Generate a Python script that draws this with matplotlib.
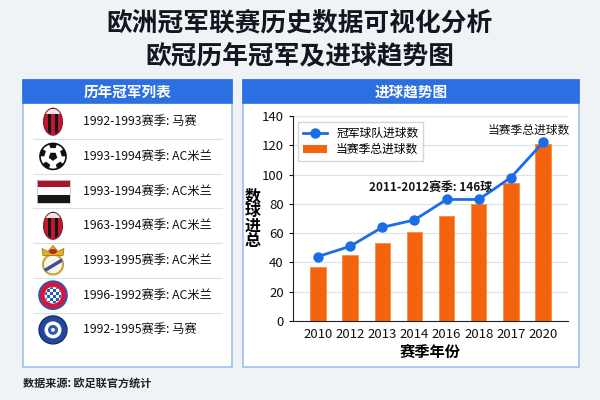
import matplotlib
matplotlib.use("Agg")
import numpy as np
import matplotlib.pyplot as plt
from matplotlib.patches import Rectangle, Ellipse, Circle, Polygon, RegularPolygon
from matplotlib.lines import Line2D

plt.rcParams['font.family'] = ['Noto Sans CJK SC', 'DejaVu Sans']

# data
seasons = ['2010', '2012', '2013', '2014', '2016', '2018', '2017', '2020']
total_goals = [37, 45, 53, 61, 72, 80, 94, 121]
champ_goals = [44, 51, 64, 69, 83, 83, 98, 122]
champ_list = ['1992-1993赛季: 马赛', '1993-1994赛季: AC米兰', '1993-1994赛季: AC米兰',
              '1963-1994赛季: AC米兰', '1993-1995赛季: AC米兰', '1996-1992赛季: AC米兰',
              '1992-1995赛季: 马赛']
icons = ['milan', 'ball', 'flag', 'milan', 'real', 'bayern', 'blue']

BLUE = '#2b6fe2'
ORANGE = '#f4640e'

fig = plt.figure(figsize=(6, 4), dpi=100)
fig.patch.set_facecolor('#eff3f6')

# background layer in pixel coords
bg = fig.add_axes([0, 0, 1, 1])
bg.set_xlim(0, 600)
bg.set_ylim(400, 0)
bg.axis('off')

bg.text(300, 23, '欧洲冠军联赛历史数据可视化分析', ha='center', va='center',
        fontsize=18.5, fontweight='bold', color='#15151f')
bg.text(300, 57, '欧冠历年冠军及进球趋势图', ha='center', va='center',
        fontsize=18.5, fontweight='bold', color='#15151f')

# panels
for x0, x1, title in [(23, 232, '历年冠军列表'), (243, 579, '进球趋势图')]:
    bg.add_patch(Rectangle((x0, 80), x1 - x0, 287, facecolor='white',
                           edgecolor='#9dc1f0', lw=1.2))
    bg.add_patch(Rectangle((x0, 80), x1 - x0, 23, facecolor=BLUE, edgecolor=BLUE, lw=1.2))
    bg.text((x0 + x1) / 2, 91.5, title, ha='center', va='center', fontsize=10.5,
            fontweight='bold', color='white')

bg.text(23, 383, '数据来源: 欧足联官方统计', ha='left', va='center', fontsize=8,
        fontweight='bold', color='#222222')


def draw_milan(cx, cy):
    e = Ellipse((cx, cy), 18, 26, facecolor='#151515', edgecolor='#7d1a2c', lw=1.5)
    bg.add_patch(e)
    for k in range(5):
        if k % 2 == 0:
            r = Rectangle((cx - 9 + k * 3.6, cy - 8), 3.6, 22, facecolor='#c0182e', lw=0)
            bg.add_patch(r)
            r.set_clip_path(e)
    top = Rectangle((cx - 9, cy - 13), 18, 5, facecolor='#f1e6e6', lw=0)
    bg.add_patch(top)
    top.set_clip_path(e)


def draw_ball(cx, cy):
    c = Circle((cx, cy), 13, facecolor='white', edgecolor='#111111', lw=1.2)
    bg.add_patch(c)
    bg.add_patch(RegularPolygon((cx, cy), 5, radius=4.5, facecolor='#111111'))
    for a in np.arange(5) * 72 + 90:
        t = np.deg2rad(a)
        p = RegularPolygon((cx + 12 * np.cos(t), cy - 12 * np.sin(t)), 5, radius=4.5,
                           orientation=np.pi, facecolor='#111111')
        bg.add_patch(p)
        p.set_clip_path(c)


def draw_flag(cx, cy):
    cols = ['#a3162e', '#fbfbfb', '#151515']
    for k, col in enumerate(cols):
        bg.add_patch(Rectangle((cx - 16.5, cy - 11.5 + k * 7.7), 33, 7.7,
                               facecolor=col, lw=0))
    bg.add_patch(Rectangle((cx - 16.5, cy - 11.5), 33, 23.1, facecolor='none',
                           edgecolor='#c8c8c8', lw=0.6))


def draw_real(cx, cy):
    c = Circle((cx, cy + 4), 10, facecolor='#f7f4ea', edgecolor='#c9a43a', lw=1.5)
    bg.add_patch(c)
    band = Polygon([(cx - 10, cy + 9), (cx + 10, cy - 3), (cx + 10, cy + 1), (cx - 10, cy + 13)],
                   facecolor='#3a4f9a', lw=0)
    bg.add_patch(band)
    band.set_clip_path(c)
    crown = Polygon([(cx - 10, cy - 5), (cx - 11, cy - 12), (cx - 5, cy - 9), (cx, cy - 15),
                     (cx + 5, cy - 9), (cx + 11, cy - 12), (cx + 10, cy - 5)],
                    facecolor='#e2b321', edgecolor='#a07a10', lw=0.6)
    bg.add_patch(crown)
    bg.add_patch(Ellipse((cx, cy - 9), 8, 5, facecolor='#c3202f', lw=0))


def draw_bayern(cx, cy):
    bg.add_patch(Circle((cx, cy), 14, facecolor='#d3173f', edgecolor='#2459b8', lw=1.2))
    inner = Circle((cx, cy), 8, facecolor='white', edgecolor='white', lw=0.5)
    bg.add_patch(inner)
    for i in range(-3, 3):
        for j in range(-3, 3):
            if (i + j) % 2 == 0:
                sq = Rectangle((cx + i * 3, cy + j * 3), 3, 3, facecolor='#1f5fc0', lw=0)
                bg.add_patch(sq)
                sq.set_clip_path(inner)


def draw_blue(cx, cy):
    bg.add_patch(Circle((cx, cy), 14, facecolor='#24479e', edgecolor='#1a2f70', lw=1))
    bg.add_patch(Circle((cx, cy), 8.5, facecolor='white', edgecolor='white', lw=0))
    bg.add_patch(Circle((cx, cy), 5, facecolor='#3158b0', lw=0))
    bg.add_patch(RegularPolygon((cx, cy), 5, radius=2.2, facecolor='white'))


painters = {'milan': draw_milan, 'ball': draw_ball, 'flag': draw_flag, 'real': draw_real,
            'bayern': draw_bayern, 'blue': draw_blue}

row_y = 121.7 + 34.7 * np.arange(len(champ_list))
for k, (label, icon) in enumerate(zip(champ_list, icons)):
    y = row_y[k]
    painters[icon](53, y)
    bg.text(83, y, label, ha='left', va='center', fontsize=8.8, color='#111111')
    if k < len(champ_list) - 1:
        bg.plot([33, 222], [y + 17.3, y + 17.3], color='#d6e1ea', lw=0.8)

# chart
ax = fig.add_axes([0.488, 0.1975, 0.459, 0.5125])
ax.set_facecolor('white')
x = np.arange(len(seasons))
ax.bar(x, total_goals, width=0.48, color=ORANGE, edgecolor='#ff8a3c', lw=0.6,
       label='当赛季总进球数', zorder=2)
ax.plot(x, champ_goals, color='#1b6de6', lw=2, marker='o', ms=6.5,
        label='冠军球队进球数', zorder=3)

ax.set_xlim(-0.78, len(seasons) - 0.22)
ax.set_ylim(0, 140)
ax.set_yticks(range(0, 141, 20))
ax.set_xticks(x)
ax.set_xticklabels(seasons)
ax.tick_params(axis='both', labelsize=9.5, colors='#111111', length=3)
ax.tick_params(axis='x', length=0, pad=5)
ax.grid(axis='y', color='#d9e4ec', lw=0.9, zorder=0)
ax.set_axisbelow(True)
for s in ['top', 'right']:
    ax.spines[s].set_visible(False)
for s in ['left', 'bottom']:
    ax.spines[s].set_color('#222222')

ax.set_xlabel('赛季年份', fontsize=11, fontweight='bold', labelpad=2)
ax.set_ylabel('数\n球\n进\n总', rotation=0, fontsize=11.5, fontweight='bold',
              linespacing=0.9, va='center', ha='center')
ax.yaxis.set_label_coords(-0.145, 0.5)

ax.text(3.5, 91, '2011-2012赛季: 146球', ha='center', va='center', fontsize=8.5,
        color='#151515', fontweight='bold')
ax.text(6.55, 130, '当赛季总进球数', ha='center', va='center', fontsize=8.5,
        color='#111111')

handles = [Line2D([], [], color='#1b6de6', lw=2, marker='o', ms=6.5),
           Rectangle((0, 0), 1, 1, facecolor=ORANGE)]
ax.legend(handles, ['冠军球队进球数', '当赛季总进球数'], loc='upper left',
          bbox_to_anchor=(0.02, 0.97), borderaxespad=0, fontsize=8.5, frameon=True,
          fancybox=False, edgecolor='#cccccc', borderpad=0.4, handlelength=2.0,
          labelspacing=0.3)

fig.savefig('out.png', dpi=100, facecolor=fig.get_facecolor())
